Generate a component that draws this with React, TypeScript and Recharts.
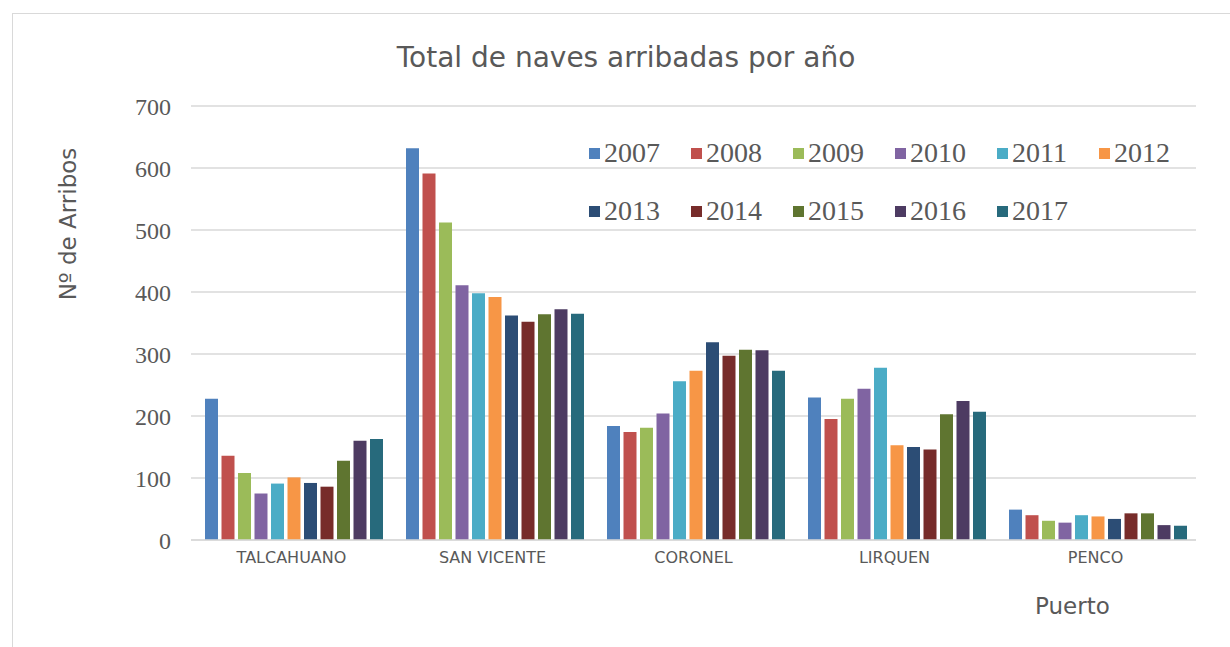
import React from 'react';
import { BarChart, Bar, XAxis, YAxis, CartesianGrid, Legend } from 'recharts';

const PUERTOS = ['TALCAHUANO', 'SAN VICENTE', 'CORONEL', 'LIRQUEN', 'PENCO'];

const YEARS = ['2007', '2008', '2009', '2010', '2011', '2012', '2013', '2014', '2015', '2016', '2017'];

const COLORS = ['#4F81BD', '#C0504D', '#9BBB59', '#8064A2', '#4BACC6', '#F79646', '#2C4D75', '#772C2A', '#5F7530', '#4D3B62', '#276A7C'];

// arribos por puerto, una lista por año (orden de PUERTOS)
const A2007 = [228, 632, 184, 230, 49];
const A2008 = [136, 591, 174, 195, 40];
const A2009 = [108, 512, 181, 228, 31];
const A2010 = [75, 411, 204, 244, 28];
const A2011 = [91, 398, 256, 278, 40];
const A2012 = [101, 392, 273, 153, 38];
const A2013 = [92, 362, 319, 150, 34];
const A2014 = [86, 352, 297, 146, 43];
const A2015 = [128, 364, 307, 203, 43];
const A2016 = [160, 372, 306, 224, 24];
const A2017 = [163, 365, 273, 207, 23];

const Y_TICKS = [0, 100, 200, 300, 400, 500, 600, 700];

const SERIES = [A2007, A2008, A2009, A2010, A2011, A2012, A2013, A2014, A2015, A2016, A2017];

const data = PUERTOS.map((name, i) => {
  const row: any = { name };
  YEARS.forEach((y, j) => { row[y] = SERIES[j][i]; });
  return row;
});

const SANS = '"DejaVu Sans", Verdana, sans-serif';
const SERIF = '"Liberation Serif", "DejaVu Serif", serif';
const TEXT = '#595959';

function LegendBox({ payload }) {
  const items = payload || [];
  return (
    <div style={{ display: 'flex', flexWrap: 'wrap', width: 620, rowGap: 26 }}>
      {items.map((p) => (
        <div key={p.value} style={{ width: 102, display: 'flex', alignItems: 'center', height: 32 }}>
          <span style={{ width: 11, height: 11, background: p.color, display: 'inline-block', marginRight: 4 }} />
          <span style={{ fontFamily: SERIF, fontSize: 28, color: TEXT }}>{p.value}</span>
        </div>
      ))}
    </div>
  );
}

export default function App() {
  return (
    <div style={{ position: 'absolute', left: 0, top: 0, width: 1230, height: 647, overflow: 'hidden', background: '#fff' }}>
      <div style={{ position: 'absolute', left: 12, top: 13, width: 1250, height: 700, border: '1px solid #d9d9d9' }} />
      <div style={{ position: 'absolute', left: 0, width: 1230, top: 41, textAlign: 'center', fontFamily: SANS, fontSize: 28, color: TEXT, paddingLeft: 22, boxSizing: 'border-box' }}>
        Total de naves arribadas por año
      </div>
      <div style={{ position: 'absolute', left: 68, top: 224, transform: 'translate(-50%, -50%) rotate(-90deg)', fontFamily: SANS, fontSize: 23, color: TEXT, whiteSpace: 'nowrap' }}>
        Nº de Arribos
      </div>
      <div style={{ position: 'absolute', left: 1035, top: 593, fontFamily: SANS, fontSize: 23, color: TEXT }}>
        Puerto
      </div>
      <BarChart
        width={1230}
        height={647}
        data={data}
        margin={{ top: 106, right: 34, left: 121, bottom: 77 }}
        barCategoryGap={14}
        barGap={3.5}
        style={{ position: 'absolute', left: 0, top: 0 }}
      >
        <CartesianGrid vertical={false} stroke="#d9d9d9" strokeWidth={1.5} />
        <XAxis
          dataKey="name"
          height={30}
          axisLine={{ stroke: '#d9d9d9', strokeWidth: 1.5 }}
          tickLine={false}
          tick={{ fontSize: 16, fontFamily: SANS, fill: TEXT }}
          tickMargin={6}
          interval={0}
        />
        <YAxis
          width={70}
          domain={[0, 700]}
          ticks={Y_TICKS}
          axisLine={false}
          tickLine={false}
          tick={{ fontSize: 24, fontFamily: SERIF, fill: TEXT }}
          tickMargin={14}
        />
        <Legend
          layout="horizontal"
          verticalAlign="middle"
          align="center"
          content={(props) => <LegendBox {...props} />}
          wrapperStyle={{ left: 589, top: 137, width: 620 }}
        />
        {YEARS.map((y, j) => (
          <Bar key={y} dataKey={y} fill={COLORS[j]} isAnimationActive={false} />
        ))}
      </BarChart>
    </div>
  );
}
